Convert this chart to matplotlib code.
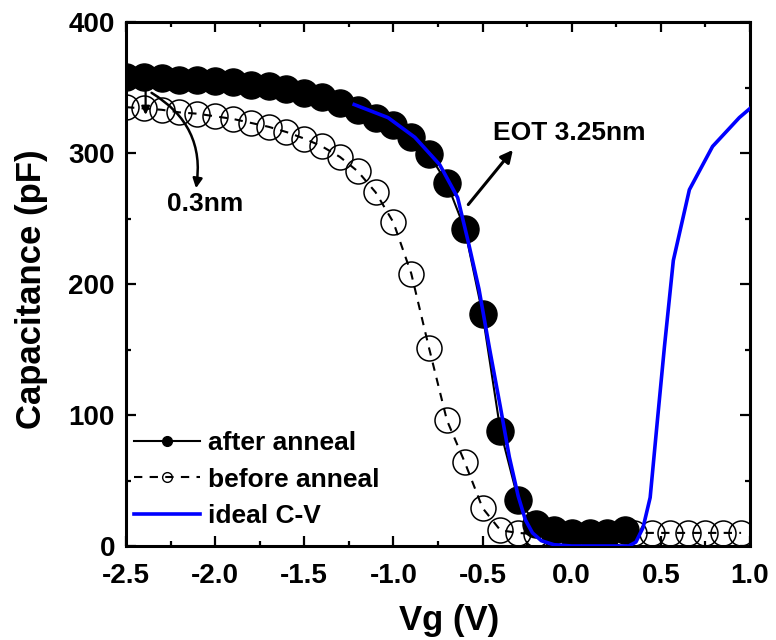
import matplotlib
matplotlib.use("Agg")
import matplotlib.pyplot as plt
from matplotlib.ticker import MultipleLocator, FormatStrFormatter
from matplotlib.lines import Line2D

# Measured C-V data
vg_after = [-2.5, -2.4, -2.3, -2.2, -2.1, -2.0, -1.9, -1.8, -1.7, -1.6,
            -1.5, -1.4, -1.3, -1.2, -1.1, -1.0, -0.9, -0.8, -0.7, -0.6,
            -0.5, -0.4, -0.3, -0.2, -0.1, 0.0, 0.1, 0.2, 0.3]
c_after = [358, 358, 357, 356, 356, 355, 354, 352, 351, 349,
           346, 343, 338, 333, 327, 321, 312, 299, 277, 242,
           177, 88, 35, 17, 12, 10, 10, 10, 12]

vg_before = [-2.5, -2.4, -2.3, -2.2, -2.1, -2.0, -1.9, -1.8, -1.7, -1.6,
             -1.5, -1.4, -1.3, -1.2, -1.1, -1.0, -0.9, -0.8, -0.7, -0.6,
             -0.5, -0.4, -0.3, -0.2, -0.1, 0.0, 0.1, 0.2, 0.3, 0.35,
             0.45, 0.55, 0.65, 0.75, 0.85, 0.95]
c_before = [335, 334, 333, 331, 330, 328, 326, 323, 320, 316,
            311, 305, 297, 286, 270, 247, 208, 151, 96, 64,
            29, 12, 10, 9, 9, 9, 9, 9, 9, 10,
            10, 10, 10, 10, 10, 10]

# Simulated ideal C-V curve
vg_ideal = [-1.22, -1.03, -0.88, -0.74, -0.64, -0.58, -0.52, -0.46, -0.40,
            -0.35, -0.30, -0.26, -0.22, -0.17, -0.10, 0.0, 0.2, 0.32, 0.36,
            0.40, 0.44, 0.48, 0.52, 0.57, 0.66, 0.79, 0.94, 1.0]
c_ideal = [337, 327, 312, 291, 266, 232, 196, 150, 106,
           68, 38, 20, 10, 4, 1, 0, 0, 0, 3,
           14, 37, 95, 152, 218, 272, 305, 327, 334]

plt.rcParams['font.family'] = ['Liberation Sans', 'DejaVu Sans']
plt.rcParams['font.weight'] = 'bold'

fig = plt.figure(figsize=(7.76, 6.40), dpi=100)
ax = fig.add_axes([126 / 776, 1 - 546 / 640, 624 / 776, 524 / 640])

ax.plot(vg_before, c_before, color='black', lw=1.5, ls=(0, (4, 3.5)),
        marker='o', ms=18, mfc='none', mec='black', mew=1.1, zorder=2)
ax.plot(vg_after, c_after, color='black', lw=1.5, ls='-',
        marker='o', ms=19.5, mfc='black', mec='black', zorder=3)
ax.plot(vg_ideal, c_ideal, color='#0000ff', lw=2.6, zorder=4)

ax.set_xlim(-2.5, 1.0)
ax.set_ylim(0, 400)
ax.xaxis.set_major_locator(MultipleLocator(0.5))
ax.xaxis.set_minor_locator(MultipleLocator(0.25))
ax.yaxis.set_major_locator(MultipleLocator(100))
ax.yaxis.set_minor_locator(MultipleLocator(50))
ax.xaxis.set_major_formatter(FormatStrFormatter('%.1f'))

ax.tick_params(which='both', direction='in', top=True, right=True, width=1.6)
ax.tick_params(which='major', length=7, labelsize=20)
ax.tick_params(axis='x', which='major', pad=12)
ax.tick_params(axis='y', which='major', pad=8)
ax.tick_params(which='minor', length=3.5)
for lab in ax.get_xticklabels() + ax.get_yticklabels():
    lab.set_fontweight('bold')
for sp in ax.spines.values():
    sp.set_linewidth(2.2)

ax.set_xlabel('Vg (V)', fontsize=25, fontweight='bold')
ax.set_ylabel('Capacitance (pF)', fontsize=25, fontweight='bold')
ax.xaxis.set_label_coords(0.518, -0.11)
ax.yaxis.set_label_coords(-0.125, 0.49)

# Annotations
ax.annotate('', xy=(-0.32, 304), xytext=(-0.59, 259),
            arrowprops=dict(arrowstyle='-|>', color='black', lw=2.2,
                            mutation_scale=18))
ax.text(-0.44, 315, 'EOT 3.25nm', fontsize=19, fontweight='bold',
        ha='left', va='center')

ax.annotate('', xy=(-2.39, 327), xytext=(-2.39, 350),
            arrowprops=dict(arrowstyle='-|>', color='black', lw=1.6,
                            mutation_scale=12))
ax.annotate('', xy=(-2.11, 271), xytext=(-2.37, 347),
            arrowprops=dict(arrowstyle='-|>', color='black', lw=1.8,
                            mutation_scale=14,
                            connectionstyle='arc3,rad=-0.35'))
ax.text(-2.27, 261, '0.3nm', fontsize=19, fontweight='bold',
        ha='left', va='center')

handles = [
    Line2D([], [], color='black', lw=1.5, marker='o', ms=7, mfc='black'),
    Line2D([], [], color='black', lw=1.5, ls=(0, (4, 3.5)), marker='o', ms=7,
           mfc='none', mew=1.0),
    Line2D([], [], color='#0000ff', lw=2.6),
]
ax.legend(handles, ['after anneal', 'before anneal', 'ideal C-V'],
          loc='upper left', bbox_to_anchor=(0.005, 0.229), frameon=False,
          handlelength=2.5, handletextpad=0.3, labelspacing=0.47,
          borderpad=0.2, borderaxespad=0, prop={'weight': 'bold', 'size': 19})

fig.savefig('out.png', dpi=100)
